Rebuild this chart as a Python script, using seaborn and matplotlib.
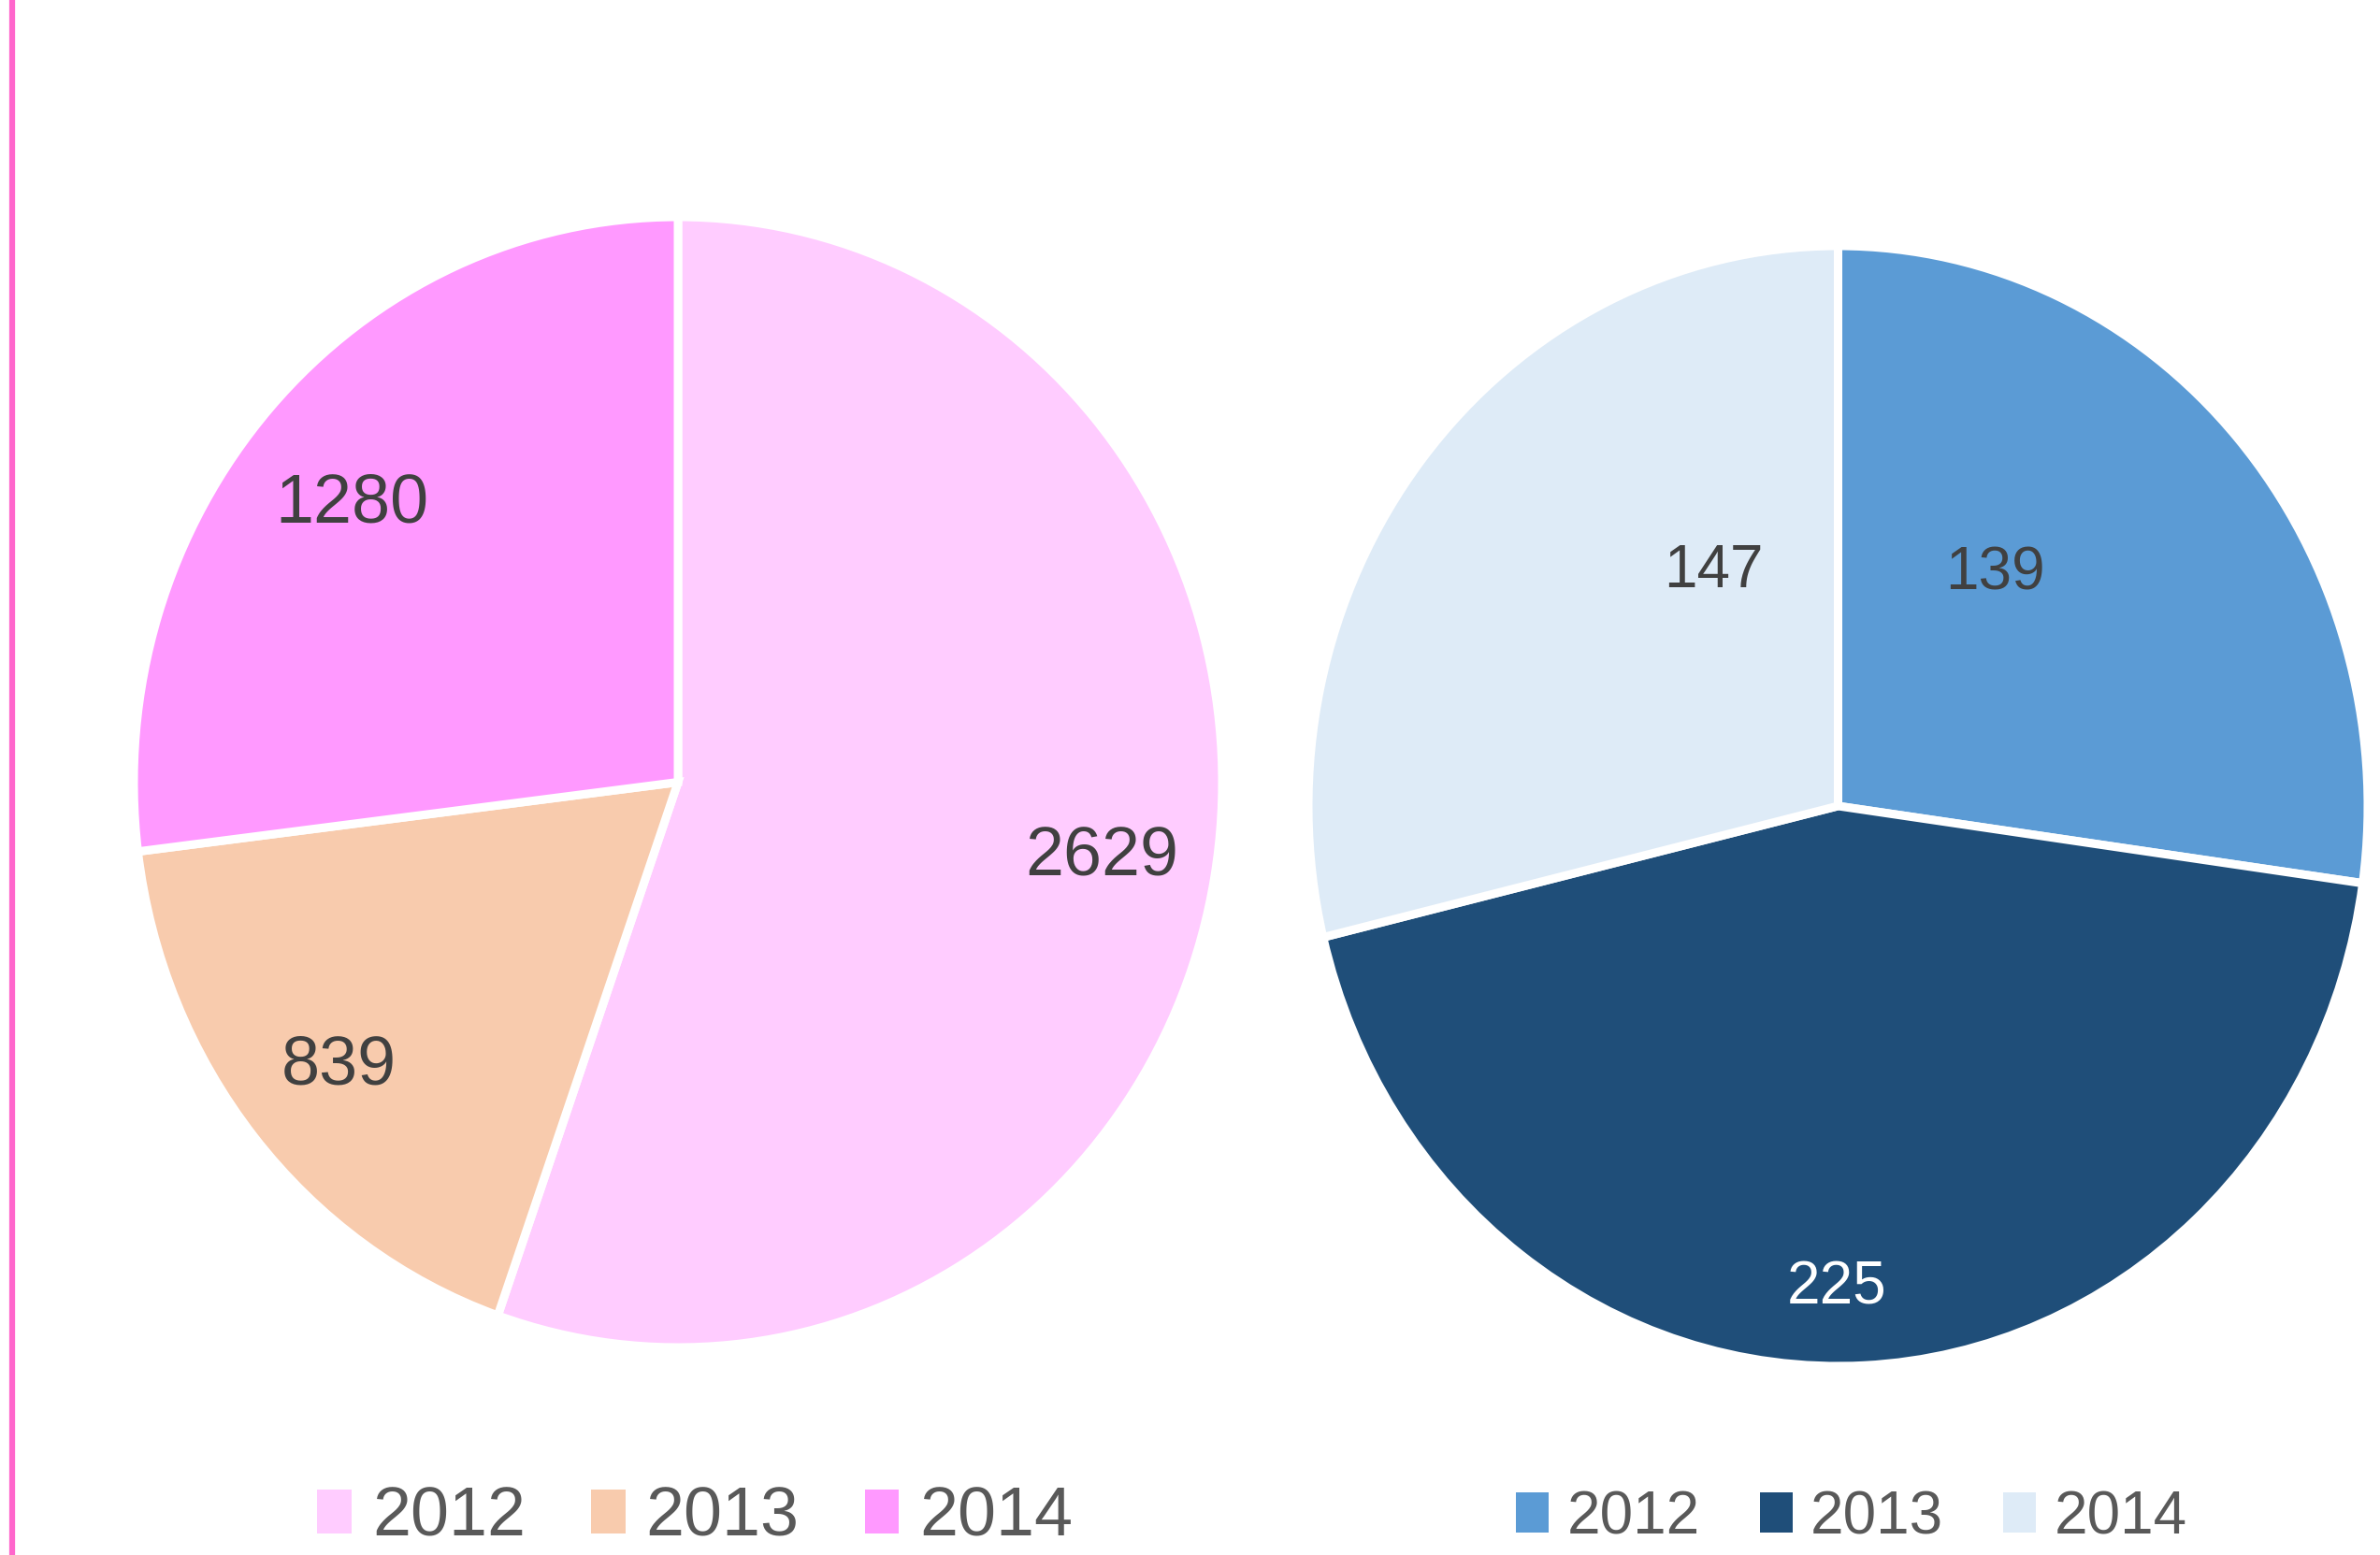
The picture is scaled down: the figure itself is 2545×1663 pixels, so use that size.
import matplotlib
matplotlib.use("Agg")
import matplotlib.pyplot as plt
import seaborn as sns
import numpy as np
from matplotlib.lines import Line2D

sns.set_theme(style="white")
plt.rcParams['font.family'] = ['Liberation Sans', 'DejaVu Sans']

# ---- data ----
years = ["2012", "2013", "2014"]
left_values = [2629, 839, 1280]
right_values = [139, 225, 147]
left_colors = ["#FFCCFF", "#F8CBAD", "#FF99FF"]
right_colors = ["#5B9BD5", "#1F4E79", "#DEEBF7"]
left_label_colors = ["#404040", "#404040", "#404040"]
right_label_colors = ["#404040", "#FFFFFF", "#404040"]

# label placement (radius fraction, angle shift in degrees from wedge middle)
left_label_r = [0.79, 0.80, 0.775]
left_label_shift = [0, 0, 2.0]
right_label_r = [0.51, 0.86, 0.48]
right_label_shift = [13.5, -3, -22.5]

W, H = 2545, 1663
fig = plt.figure(figsize=(W / 100, H / 100), dpi=100)
fig.patch.set_facecolor("white")

def px_axes(x0, x1, ytop, ybot):
    return fig.add_axes([x0 / W, 1 - ybot / H, (x1 - x0) / W, (ybot - ytop) / H])

axL = px_axes(143, 1307, 232, 1441)
axR = px_axes(1399, 2532, 263, 1461)

def draw(ax, values, colors, lcolors, lr, lshift, fs):
    wedges, _ = ax.pie(values, colors=colors, startangle=90, counterclock=False,
                       radius=1, wedgeprops=dict(edgecolor="white", linewidth=6.5))
    for w, v, c, r, s in zip(wedges, values, lcolors, lr, lshift):
        mid = np.deg2rad((w.theta1 + w.theta2) / 2 + s)
        ax.text(r * np.cos(mid), r * np.sin(mid), str(v), ha="center", va="center",
                fontsize=fs, color=c)
    ax.set_xlim(-1, 1)
    ax.set_ylim(-1, 1)
    ax.set_aspect("auto")
    ax.axis("off")
    return wedges

wL = draw(axL, left_values, left_colors, left_label_colors, left_label_r, left_label_shift, 53)
wR = draw(axR, right_values, right_colors, right_label_colors, right_label_r, right_label_shift, 46)

legL = fig.legend(wL, years, loc="center", bbox_to_anchor=(0.292, 0.024), ncol=3,
                  frameon=False, fontsize=53, labelcolor="#595959",
                  handlelength=0.5, handleheight=0.6, handletextpad=0.3,
                  columnspacing=0.95, borderaxespad=0)
legR = fig.legend(wR, years, loc="center", bbox_to_anchor=(0.778, 0.024), ncol=3,
                  frameon=False, fontsize=46, labelcolor="#595959",
                  handlelength=0.55, handleheight=0.65, handletextpad=0.3,
                  columnspacing=1.0, borderaxespad=0)
for leg in (legL, legR):
    for h in leg.legend_handles:
        h.set_linewidth(0)

fig.add_artist(Line2D([13 / W, 13 / W], [0, 1], color="#FF66CC", linewidth=4.5,
                      transform=fig.transFigure))

fig.savefig("out.png", dpi=100, facecolor="white")
